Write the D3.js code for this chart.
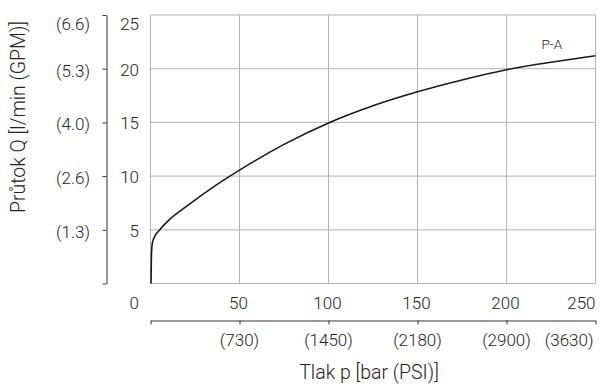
<!DOCTYPE html>
<html>
<head>
<meta charset="utf-8">
<script src="https://cdn.jsdelivr.net/npm/d3@7"></script>
<style>
  html, body { margin: 0; padding: 0; background: #fff; }
  svg { display: block; }
  text { font-family: Roboto, "Liberation Sans", sans-serif; font-weight: 300; fill: #222; }
</style>
</head>
<body>
<svg id="chart" width="600" height="385"></svg>
<script>
// Flow curve P-A: pressure [bar] vs flow [l/min]
const pressureBar = [0.3, 0.5, 0.9, 1.8, 5, 10, 20, 35, 50, 75, 100, 125, 150, 175, 200, 225, 250];
const flowLpm     = [0, 2.5, 3.6, 4.2, 4.95, 5.85, 7.15, 8.95, 10.55, 12.95, 14.95, 16.55, 17.85, 18.95, 19.9, 20.6, 21.2];
const seriesName = "P-A";

// Axis ticks: primary (metric) and secondary (imperial) labels
const xTicks = [0, 50, 100, 150, 200, 250];
const xTicksPsi = ["", "(730)", "(1450)", "(2180)", "(2900)", "(3630)"];
const yTicks = [0, 5, 10, 15, 20, 25];
const yTicksGpm = ["", "(1.3)", "(2.6)", "(4.0)", "(5.3)", "(6.6)"];

const xTitle = "Tlak p [bar (PSI)]";
const yTitle = "Průtok Q [l/min (GPM)]";

const svg = d3.select("#chart");
const plot = { left: 150.5, right: 595.5, top: 15, bottom: 283.5 };

const x = d3.scaleLinear().domain([0, 250]).range([plot.left, plot.right]);
const y = d3.scaleLinear().domain([0, 25]).range([plot.bottom, plot.top]);

// Grid
const grid = svg.append("g").attr("stroke", "#b3b3b3").attr("stroke-width", 1).attr("fill", "none");
grid.selectAll("line.v").data(xTicks).join("line")
  .attr("x1", d => x(d)).attr("x2", d => x(d))
  .attr("y1", plot.top).attr("y2", plot.bottom);
grid.selectAll("line.h").data(yTicks).join("line")
  .attr("x1", plot.left).attr("x2", plot.right)
  .attr("y1", d => y(d)).attr("y2", d => y(d));

// Primary y labels (top label kept inside, zero label sits on the x-label row)
const yLabelPos = d => d === 25 ? y(d) + 9 : d === 0 ? 303 : y(d) + 1;
svg.append("g").selectAll("text").data(yTicks).join("text")
  .attr("x", 139).attr("y", yLabelPos)
  .attr("text-anchor", "end").attr("dominant-baseline", "central")
  .attr("font-size", 17)
  .text(d => d);

// Secondary y axis (GPM)
const yAxis2 = d3.axisLeft(y).tickValues(yTicks).tickSize(4).tickSizeOuter(0).tickFormat("");
const gy2 = svg.append("g").attr("transform", "translate(106.5,0)").call(yAxis2);
gy2.select(".domain").attr("stroke", "#333");
gy2.selectAll(".tick line").attr("stroke", "#333");
svg.append("g").selectAll("text").data(yTicks).join("text")
  .attr("x", 90).attr("y", d => d === 25 ? y(d) + 9 : y(d) + 2)
  .attr("text-anchor", "end").attr("dominant-baseline", "central")
  .attr("font-size", 17)
  .text((d, i) => yTicksGpm[i]);

// Primary x labels
svg.append("g").selectAll("text").data(xTicks.slice(1)).join("text")
  .attr("x", d => d === 250 ? x(d) : x(d) - 1)
  .attr("y", 303)
  .attr("text-anchor", d => d === 250 ? "end" : "middle")
  .attr("dominant-baseline", "central")
  .attr("font-size", 17)
  .text(d => d);

// Secondary x axis (PSI)
const xAxis2 = d3.axisBottom(x).tickValues(xTicks).tickSize(4).tickSizeOuter(0).tickFormat("");
const gx2 = svg.append("g").attr("transform", "translate(0,320.5)").call(xAxis2);
gx2.select(".domain").attr("stroke", "#333");
gx2.selectAll(".tick line").attr("stroke", "#333");
svg.append("g").selectAll("text").data(xTicks).join("text")
  .attr("x", d => d === 250 ? x(d) - 2 : x(d))
  .attr("y", 340)
  .attr("text-anchor", d => d === 250 ? "end" : "middle")
  .attr("dominant-baseline", "central")
  .attr("font-size", 17)
  .text((d, i) => xTicksPsi[i]);

// Axis titles
svg.append("text")
  .attr("x", 369).attr("y", 379)
  .attr("text-anchor", "middle")
  .attr("font-size", 19.5)
  .text(xTitle);
svg.append("text")
  .attr("transform", "translate(25,117) rotate(-90)")
  .attr("text-anchor", "middle")
  .attr("font-size", 19.5)
  .text(yTitle);

// Curve
const pts = pressureBar.map((p, i) => [p, flowLpm[i]]);
const line = d3.line().x(d => x(d[0])).y(d => y(d[1])).curve(d3.curveMonotoneX);
svg.append("path")
  .datum(pts)
  .attr("d", line)
  .attr("fill", "none")
  .attr("stroke", "#1a1a1a")
  .attr("stroke-width", 1.6);

// Series label
svg.append("text")
  .attr("x", 541.5).attr("y", 48.5)
  .attr("font-size", 13.5)
  .text(seriesName);
</script>
</body>
</html>
